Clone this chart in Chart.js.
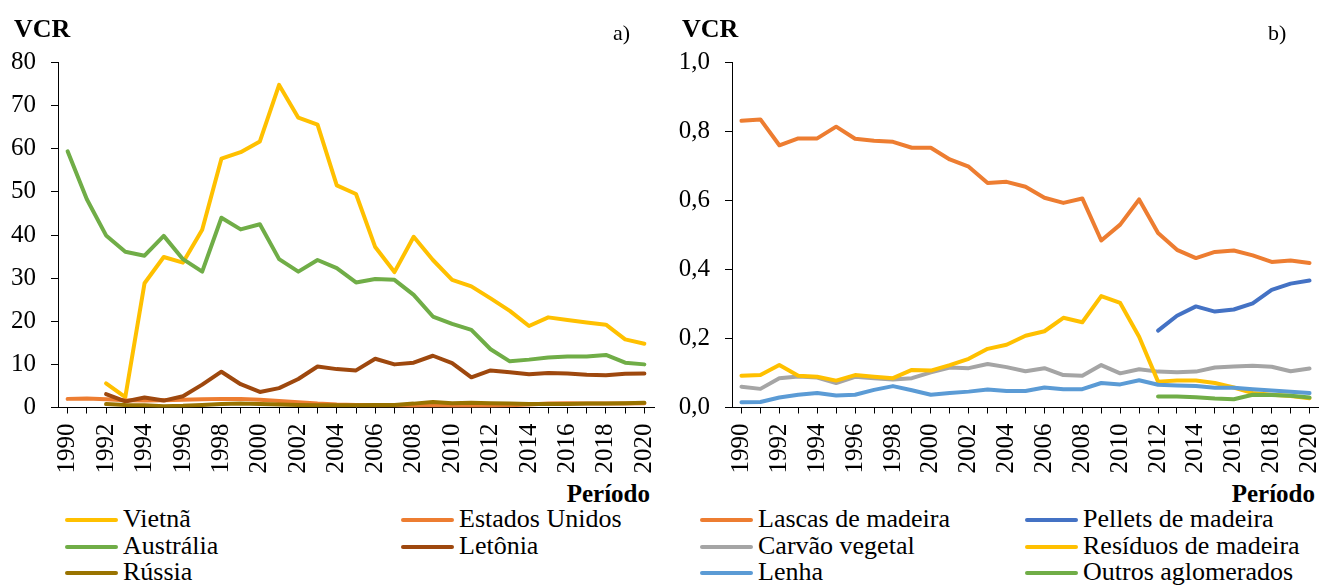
<!DOCTYPE html>
<html lang="pt">
<head>
<meta charset="utf-8">
<title>VCR</title>
<script src="https://cdn.jsdelivr.net/npm/chart.js@4/dist/chart.umd.min.js"></script>
<style>
    body { margin: 0; background: #fff; width: 1319px; height: 586px; position: relative; overflow: hidden;
           font-family: "Liberation Serif", "Times New Roman", Tinos, "DejaVu Serif", serif; color: #000; }
    .box { position: absolute; top: 0; height: 480px; }
    .txt { position: absolute; white-space: nowrap; line-height: 1; }
    .bold { font-weight: bold; }
    .swatch { position: absolute; height: 4px; border-radius: 2px; }
</style>
</head>
<body>
<div class="box" style="left:0; width:660px;"><canvas id="chartA"></canvas></div>
<div class="box" style="left:660px; width:659px;"><canvas id="chartB"></canvas></div>

<div class="txt bold" style="left:14px; top:16px; font-size:26px;">VCR</div>
<div class="txt bold" style="left:682px; top:16px; font-size:26px;">VCR</div>
<div class="txt" style="left:613px; top:22px; font-size:22px;">a)</div>
<div class="txt" style="left:1268px; top:22px; font-size:22px;">b)</div>
<div class="txt bold" style="right:669px; top:481px; font-size:25px;">Período</div>
<div class="txt bold" style="right:4px; top:481px; font-size:25px;">Período</div>
<div id="legends"></div>

<script>
// anos e rótulos do eixo x
const years = [];
for (let y = 1990; y <= 2020; y++) years.push(String(y));

// a) VCR por país
const vietna    = [null, null, 5.6, 2.4, 28.8, 34.9, 33.6, 41.2, 57.7, 59.2, 61.7, 74.8, 67.2, 65.6, 51.5, 49.5, 37.2, 31.4, 39.6, 34.2, 29.6, 28.1, 25.3, 22.4, 18.9, 20.9, 20.3, 19.7, 19.2, 15.8, 14.8];
const eua       = [2.0, 2.1, 1.9, 1.7, 1.6, 1.7, 1.8, 1.9, 2.0, 2.0, 1.8, 1.5, 1.2, 0.9, 0.7, 0.6, 0.5, 0.5, 0.4, 0.5, 0.4, 0.4, 0.4, 0.5, 0.7, 0.9, 1.0, 0.9, 0.9, 0.9, 1.0];
const australia = [59.4, 48.3, 39.9, 36.1, 35.2, 39.8, 34.4, 31.5, 44.0, 41.3, 42.5, 34.4, 31.5, 34.2, 32.3, 29.0, 29.8, 29.6, 26.1, 21.1, 19.4, 18.0, 13.5, 10.7, 11.1, 11.6, 11.8, 11.8, 12.2, 10.4, 10.0];
const letonia   = [null, null, 3.1, 1.4, 2.3, 1.6, 2.6, 5.3, 8.3, 5.4, 3.6, 4.5, 6.6, 9.5, 8.9, 8.6, 11.3, 10.0, 10.4, 12.0, 10.3, 7.0, 8.6, 8.2, 7.7, 8.0, 7.9, 7.6, 7.5, 7.8, 7.9];
const russia    = [null, null, 0.8, 0.6, 0.5, 0.3, 0.4, 0.6, 0.8, 0.9, 0.8, 0.7, 0.6, 0.5, 0.5, 0.5, 0.6, 0.6, 0.9, 1.3, 1.0, 1.1, 1.0, 0.9, 0.8, 0.8, 0.8, 0.9, 0.9, 1.0, 1.1];
const yTicksA   = [0, 10, 20, 30, 40, 50, 60, 70, 80];

// b) VCR por produto
const lascas   = [0.831, 0.835, 0.760, 0.780, 0.780, 0.814, 0.779, 0.773, 0.770, 0.753, 0.753, 0.719, 0.698, 0.651, 0.654, 0.640, 0.608, 0.593, 0.606, 0.484, 0.530, 0.603, 0.506, 0.457, 0.433, 0.451, 0.455, 0.441, 0.422, 0.426, 0.419];
const pellets  = [null, null, null, null, null, null, null, null, null, null, null, null, null, null, null, null, null, null, null, null, null, null, 0.223, 0.266, 0.293, 0.278, 0.284, 0.302, 0.341, 0.359, 0.368];
const carvao   = [0.060, 0.054, 0.085, 0.090, 0.087, 0.071, 0.089, 0.085, 0.081, 0.085, 0.102, 0.116, 0.114, 0.126, 0.117, 0.105, 0.114, 0.094, 0.092, 0.123, 0.099, 0.111, 0.104, 0.102, 0.104, 0.116, 0.119, 0.121, 0.118, 0.105, 0.113];
const residuos = [0.092, 0.094, 0.123, 0.092, 0.089, 0.078, 0.094, 0.089, 0.085, 0.109, 0.107, 0.123, 0.141, 0.170, 0.182, 0.208, 0.221, 0.260, 0.247, 0.323, 0.303, 0.205, 0.075, 0.078, 0.078, 0.071, 0.058, 0.042, 0.037, 0.033, 0.027];
const lenha    = [0.015, 0.016, 0.029, 0.037, 0.042, 0.035, 0.037, 0.051, 0.062, 0.050, 0.037, 0.042, 0.046, 0.052, 0.048, 0.048, 0.058, 0.053, 0.053, 0.071, 0.067, 0.079, 0.066, 0.064, 0.062, 0.057, 0.057, 0.053, 0.049, 0.046, 0.042];
const outros   = [null, null, null, null, null, null, null, null, null, null, null, null, null, null, null, null, null, null, null, null, null, null, 0.032, 0.032, 0.030, 0.026, 0.024, 0.037, 0.036, 0.034, 0.029];
const yTicksB  = [0, 0.2, 0.4, 0.6, 0.8, 1.0];

const seriesA = [
    { label: "Vietnã", data: vietna, color: "#FFC000" },
    { label: "Estados Unidos", data: eua, color: "#ED7D31" },
    { label: "Austrália", data: australia, color: "#70AD47" },
    { label: "Letônia", data: letonia, color: "#9E480E" },
    { label: "Rússia", data: russia, color: "#997300" }
];
const seriesB = [
    { label: "Lascas de madeira", data: lascas, color: "#ED7D31" },
    { label: "Pellets de madeira", data: pellets, color: "#4472C4" },
    { label: "Carvão vegetal", data: carvao, color: "#A5A5A5" },
    { label: "Resíduos de madeira", data: residuos, color: "#FFC000" },
    { label: "Lenha", data: lenha, color: "#5B9BD5" },
    { label: "Outros aglomerados", data: outros, color: "#70AD47" }
];

document.addEventListener("DOMContentLoaded", function () {
    const FONT = "'Liberation Serif', 'Times New Roman', Tinos, 'DejaVu Serif', serif";

    function makeChart(id, series, yTicks, yWidth, padRight, fmt) {
        const n = series.length;
        return new Chart(document.getElementById(id), {
            type: "line",
            data: {
                labels: years,
                datasets: series.map((s, i) => ({
                    label: s.label,
                    data: s.data,
                    borderColor: s.color,
                    backgroundColor: s.color,
                    borderWidth: 4,
                    pointRadius: 0,
                    tension: 0,
                    fill: false,
                    borderCapStyle: "round",
                    borderJoinStyle: "round",
                    order: n - i   // later series drawn on top, like the original
                }))
            },
            options: {
                responsive: true,
                maintainAspectRatio: false,
                animation: false,
                events: [],
                layout: { padding: { top: 62.5, right: padRight, bottom: 0, left: 0 } },
                plugins: { legend: { display: false }, tooltip: { enabled: false } },
                scales: {
                    x: {
                        type: "category",
                        offset: true,
                        grid: { offset: false, drawOnChartArea: false, drawTicks: true, tickLength: 6, color: "#000" },
                        border: { display: true, color: "#000", width: 1 },
                        ticks: {
                            autoSkip: false, minRotation: 90, maxRotation: 90, padding: 10,
                            color: "#000", font: { family: FONT, size: 25 },
                            callback: (v, i) => (i % 2 === 0 ? years[i] : "")
                        },
                        afterFit: (axis) => { axis.height = 72.5; axis.paddingLeft = 0; axis.paddingRight = 0; }
                    },
                    y: {
                        min: yTicks[0],
                        max: yTicks[yTicks.length - 1],
                        afterBuildTicks: (axis) => { axis.ticks = yTicks.map(v => ({ value: v })); },
                        grid: { drawOnChartArea: false, drawTicks: true, tickLength: 7, color: "#000" },
                        border: { display: true, color: "#000", width: 1 },
                        ticks: {
                            padding: 15, color: "#000", font: { family: FONT, size: 25 },
                            callback: fmt
                        },
                        afterFit: (axis) => { axis.width = yWidth; }
                    }
                }
            }
        });
    }

    makeChart("chartA", seriesA, yTicksA, 58, 6, (v) => String(v));
    makeChart("chartB", seriesB, yTicksB, 72, 0, (v) => v.toFixed(1).replace(".", ","));

    // legend: two columns, Excel style
    function buildLegend(series, colX) {
        const holder = document.getElementById("legends");
        series.forEach((s, i) => {
            const col = i % 2, row = Math.floor(i / 2);
            const cy = 520 + row * 26.5;
            const sw = document.createElement("div");
            sw.className = "swatch";
            sw.style.left = colX[col] + "px";
            sw.style.top = (cy - 2) + "px";
            sw.style.width = "53px";
            sw.style.background = s.color;
            holder.appendChild(sw);
            const t = document.createElement("div");
            t.className = "txt";
            t.style.left = (colX[col] + 58) + "px";
            t.style.top = (cy - 13.8) + "px";
            t.style.fontSize = "26px";
            t.textContent = s.label;
            holder.appendChild(t);
        });
    }
    buildLegend(seriesA, [65, 401]);
    buildLegend(seriesB, [700, 1025]);
});
</script>
</body>
</html>
